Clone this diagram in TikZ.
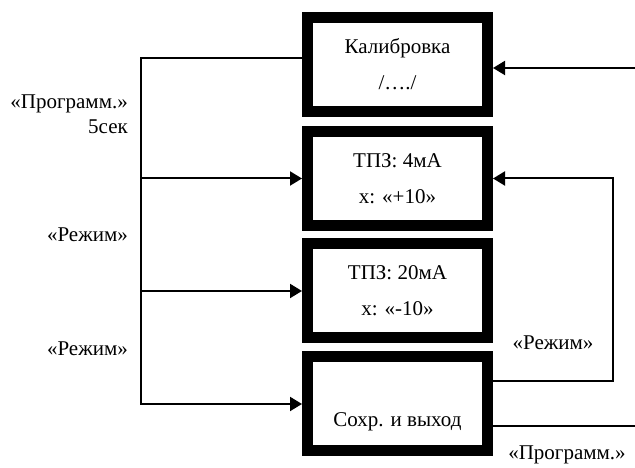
\documentclass[tikz,border=0pt]{standalone}
\usepackage{fontspec}
\setmainfont{Liberation Serif}
\usetikzlibrary{arrows.meta}
\begin{document}
\begin{tikzpicture}[x=1pt,y=1pt,
  stepbox/.style={draw, line width=11pt, minimum width=180pt, minimum height=94pt, inner sep=0pt},
  boxtext/.style={align=center, font=\fontsize{21}{36}\selectfont, inner sep=0pt},
  lbl/.style={font=\fontsize{21}{25}\selectfont, inner sep=0pt},
  wire/.style={line width=2pt, line join=miter},
  arr/.style={wire, -{Triangle[length=12pt,width=14pt]}}]
\useasboundingbox (0,0) rectangle (635,468);

% mode boxes
\node[stepbox] (b1) at (397.5,403.5) {};
\node[stepbox] (b2) at (397.5,289.5) {};
\node[stepbox] (b3) at (397.5,177) {};
\node[stepbox] (b4) at (397.5,64) {};

\node[boxtext] (t1) at (b1.center) {Калибровка\\/…./};
\node[boxtext] (t2) at ([yshift=-0.5pt]b2.center) {ТПЗ: 4мА\\х: «+10»};
\node[boxtext] (t3) at (b3.center) {ТПЗ: 20мА\\х: «-10»};
\node[boxtext] (t4) at ([yshift=-18pt]b4.center) {Сохр. и выход};

% left trunk
\coordinate (top) at (141,410);
\draw[wire] (b1.west |- top) -- (top) -- (141,63);
\draw[arr] (top) |- (b2.west);
\draw[arr] (top) |- (b3.west);
\draw[arr] (top) |- (b4.west);

% right side
\coordinate (inR) at (635,400);
\draw[arr] (inR) -- (inR -| b1.east);
\coordinate (fb) at (613,87);
\draw[arr] (fb -| b4.east) -- (fb) |- (b2.east);
\coordinate (outR) at (635,42);
\draw[wire] (outR -| b4.east) -- (outR);

% key labels
\node[lbl, align=right, anchor=east] (l1) at (128,353.5) {«Программ.»\\5сек};
\node[lbl, anchor=east] (l2) at (128,233) {«Режим»};
\node[lbl, anchor=east] (l3) at (128,119) {«Режим»};
\node[lbl] (l4) at (553,125) {«Режим»};
\node[lbl] (l5) at (567,13) {«Программ.»};
\end{tikzpicture}
\end{document}
